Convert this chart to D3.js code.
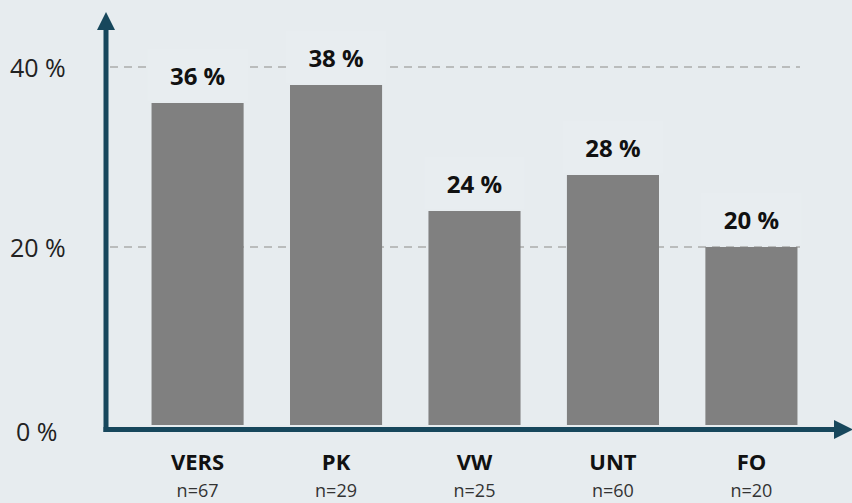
<!DOCTYPE html>
<html>
  <head>
    <script src="https://d3js.org/d3.v7.min.js"></script>
    <style>
      body { margin: 0; background: #e7ecef; }
      text { font-family: "Open Sans", "Noto Sans", sans-serif; }
    </style>
  </head>
  <body>
    <div id="vis"></div>
    <script>
      var categories = ["VERS", "PK", "VW", "UNT", "FO"];
      var counts = ["n=67", "n=29", "n=25", "n=60", "n=20"];
      var values = [36, 38, 24, 28, 20];
      var ticks = [0, 20, 40];

      var width = 852, height = 503;
      var axisColor = "#17475c";

      var svg = d3.select("#vis").append("svg")
        .attr("width", width)
        .attr("height", height);

      svg.append("rect").attr("width", width).attr("height", height).attr("fill", "#e7ecef");

      var y = d3.scaleLinear().domain([0, 40]).range([427, 67]);
      var x = d3.scaleBand().domain(categories).range([128, 821]).paddingInner(0.335).paddingOuter(0.17);

      // gridlines
      svg.append("g").selectAll("line")
        .data(ticks.filter(function(t) { return t > 0; }))
        .enter().append("line")
        .attr("x1", 110).attr("x2", 800)
        .attr("y1", function(d) { return y(d); })
        .attr("y2", function(d) { return y(d); })
        .attr("stroke", "#acacac")
        .attr("stroke-width", 1.3)
        .attr("stroke-dasharray", "8,6");

      // tick labels
      svg.append("g").selectAll("text")
        .data(ticks)
        .enter().append("text")
        .attr("x", function(d) { return d === 0 ? 16 : 10; })
        .attr("y", function(d) { return y(d) + (d === 0 ? 5 : 1); })
        .attr("dy", "0.35em")
        .attr("font-size", 25)
        .attr("fill", "#222")
        .text(function(d) { return d + " %"; });

      var bars = svg.append("g").selectAll("g")
        .data(values)
        .enter().append("g");

      // label backgrounds
      bars.append("rect")
        .attr("x", function(d, i) { return x(categories[i]) - 4; })
        .attr("width", x.bandwidth() + 8)
        .attr("y", function(d) { return y(d) - 54; })
        .attr("height", 52)
        .attr("fill", "#e8edf0");

      bars.append("rect")
        .attr("x", function(d, i) { return x(categories[i]); })
        .attr("width", x.bandwidth())
        .attr("y", function(d) { return y(d); })
        .attr("height", function(d) { return y(0) - 2 - y(d); })
        .attr("fill", "#808080");

      bars.append("text")
        .attr("x", function(d, i) { return x(categories[i]) + x.bandwidth() / 2; })
        .attr("y", function(d) { return y(d) - 18; })
        .attr("text-anchor", "middle")
        .attr("font-size", 24)
        .attr("font-weight", "bold")
        .attr("fill", "#111")
        .text(function(d) { return d + " %"; });

      // category labels
      svg.append("g").selectAll("text")
        .data(categories)
        .enter().append("text")
        .attr("x", function(d) { return x(d) + x.bandwidth() / 2; })
        .attr("y", 470)
        .attr("text-anchor", "middle")
        .attr("font-size", 22)
        .attr("font-weight", "bold")
        .attr("fill", "#111")
        .text(function(d) { return d; });

      svg.append("g").selectAll("text")
        .data(counts)
        .enter().append("text")
        .attr("x", function(d, i) { return x(categories[i]) + x.bandwidth() / 2; })
        .attr("y", 497)
        .attr("text-anchor", "middle")
        .attr("font-size", 18)
        .attr("fill", "#333")
        .text(function(d) { return d; });

      // axes with arrows
      svg.append("line")
        .attr("x1", 106).attr("x2", 106)
        .attr("y1", 28).attr("y2", 432)
        .attr("stroke", axisColor).attr("stroke-width", 5);
      svg.append("path")
        .attr("d", "M97,30 L106,12 L115,30 Z")
        .attr("fill", axisColor);

      svg.append("line")
        .attr("x1", 103.5).attr("x2", 836)
        .attr("y1", 429.5).attr("y2", 429.5)
        .attr("stroke", axisColor).attr("stroke-width", 5);
      svg.append("path")
        .attr("d", "M834,420 L853,429.5 L834,439 Z")
        .attr("fill", axisColor);
    </script>
  </body>
</html>
